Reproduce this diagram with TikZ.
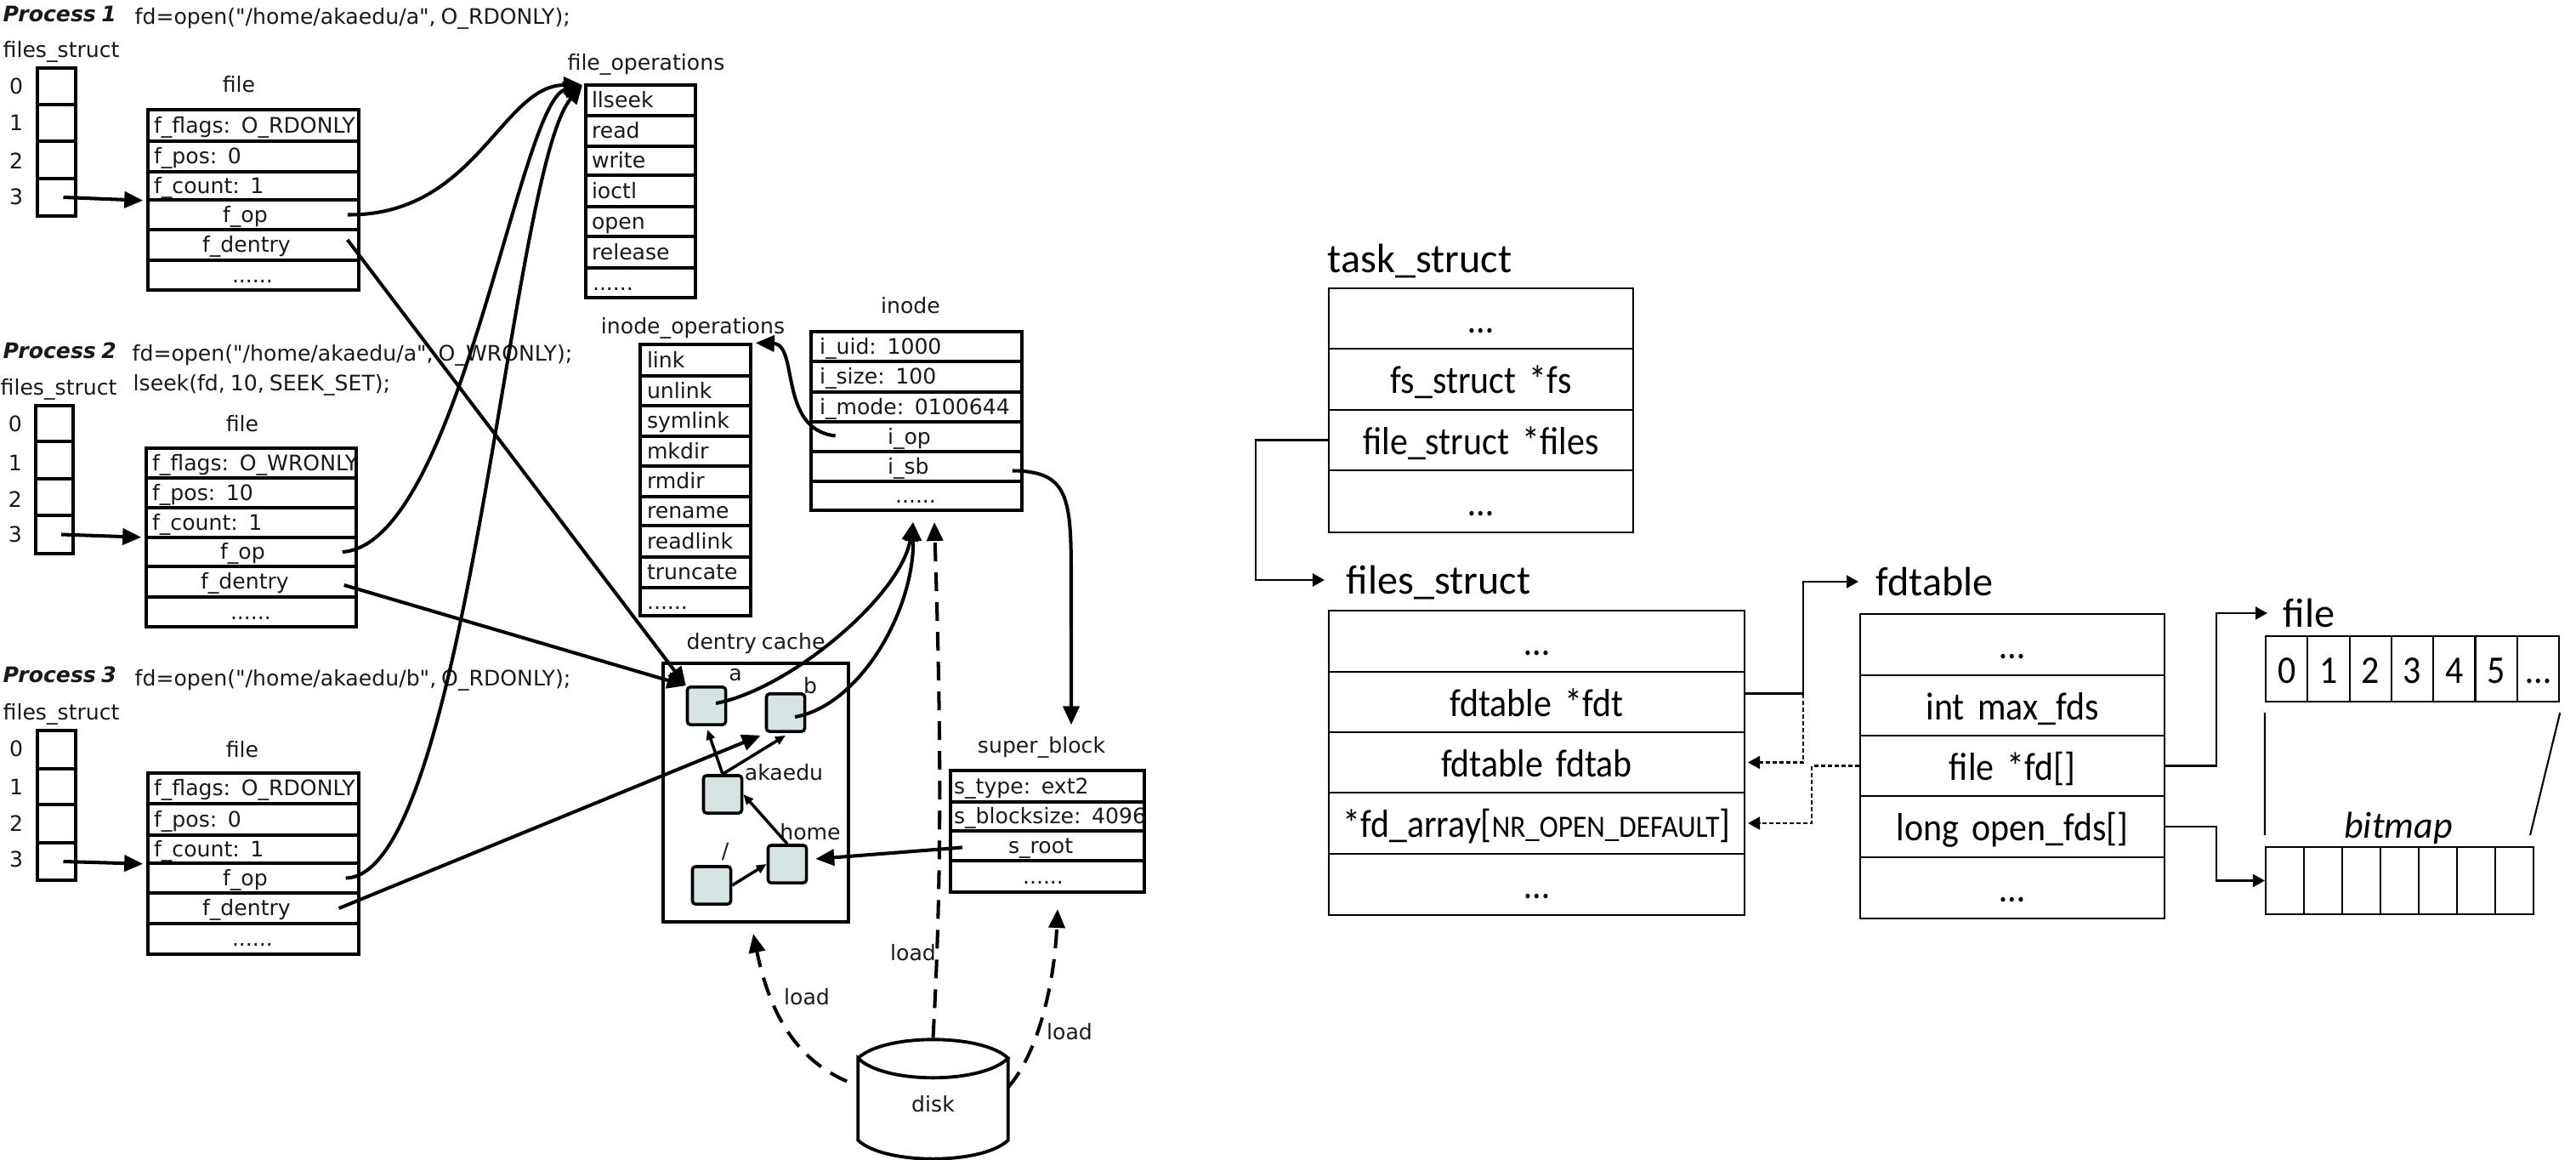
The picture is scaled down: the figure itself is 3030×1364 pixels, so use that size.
\documentclass[tikz,border=0pt]{standalone}
\usepackage{fontspec}
\usepackage{tikz}
\usetikzlibrary{arrows.meta}
\newfontfamily\dejavu[WordSpace=0.75]{DejaVu Sans}
\newfontfamily\carlito{Carlito}
\newfontfamily\carlitotall[FakeStretch=0.91,WordSpace=0.75]{Carlito}
\newlength\pxu
\setlength\pxu{0.01cm}
\newcommand{\lowstrut}{\rule[-0.2\baselineskip]{0pt}{\baselineskip}}
\tikzset{
    leftfont/.style = {font = \dejavu\fontsize{7.15}{8.5}\selectfont},
    procfont/.style = {font = \dejavu\fontsize{7.15}{8.5}\selectfont\bfseries\itshape},
    rightfont/.style = {font = \carlitotall\fontsize{13.1}{16}\selectfont},
    titlefont/.style = {font = \carlito\fontsize{13.7}{16}\selectfont},
    lefttext/.style = {leftfont, inner sep = 0pt, text = black!90, execute at begin node = \lowstrut},
    righttext/.style = {titlefont, inner sep = 0pt, execute at begin node = \lowstrut},
    leftrow/.style = {draw, line width = 1pt, inner sep = 0pt, leftfont, align = left, text = black!90},
    rightrow/.style = {draw, line width = 0.6pt, inner sep = 0pt, rightfont, align = center},
    dentrybox/.style = {draw, line width = 1pt, rounded corners = 1pt, fill = dentryfill,
        inner sep = 0pt, minimum width = 0.45cm, minimum height = 0.44cm},
    bigarrow/.style = {line width = 1.15pt, -{Triangle[length = 0.22cm, width = 0.19cm]}},
    smallarrow/.style = {line width = 1pt, -{Triangle[length = 0.12cm, width = 0.1cm]}},
    loadarrow/.style = {bigarrow, dash pattern = on 0.22cm off 0.13cm},
    thinarrow/.style = {line width = 0.6pt, -{Triangle[length = 0.14cm, width = 0.15cm]}},
    thindash/.style = {thinarrow, dash pattern = on 0.05cm off 0.03cm}
}
\definecolor{dentryfill}{HTML}{D5E3E3}
% style, prefix, left x, right x, rows: top/bottom/name/indent/text
\newcommand{\structrows}[5]{%
    \pgfmathsetlengthmacro{\rowwd}{(#4-#3)*0.01cm}%
    \foreach \ya/\yb/\nm/\indw/\txt in {#5} {
        \node [#1, text width = \rowwd, minimum height = {(\yb-\ya)*0.01cm}]
            (#2\nm) at ({(#3+#4)/2},{(\ya+\yb)/2}) {\mbox{\lowstrut\hspace{\indw\pxu}\txt}};
    }
}
\begin{document}
\begin{tikzpicture}[x = 0.01cm, y = -0.01cm]
    \useasboundingbox (0,0) rectangle (3030,1364);

    % process 1
    \node [lefttext, anchor = west, procfont] (proc1) at (3,17) {Process 1};
    \node [lefttext, anchor = west] (call1) at (158,20) {fd=open("/home/akaedu/a", O\_RDONLY);};
    \node [lefttext, anchor = west] (fs1) at (3,59) {files\_struct};
    \structrows{leftrow}{a1}{44}{89}{80/123/s0/0/{},123/166/s1/0/{},166/210/s2/0/{},210/254/s3/0/{}}
    \foreach \i/\yc in {0/102,1/145,2/190,3/232}
        \node [lefttext] (a1i\i) at (19,\yc) {\i};
    \node [lefttext] (file1) at (281,100) {file};
    \structrows{leftrow}{p1}{174}{422}{129/166/flags/7/{f\_flags: O\_RDONLY},166/202/pos/7/{f\_pos: 0},202/235/count/7/{f\_count: 1},235/270/op/88/{f\_op},270/306/dentry/64/{f\_dentry},306/341/more/99/{......}}

    % process 2
    \node [lefttext, anchor = west, procfont] (proc2) at (3,413) {Process 2};
    \node [lefttext, anchor = west] (call2) at (155,416) {fd=open("/home/akaedu/a", O\_WRONLY);};
    \node [lefttext, anchor = west] (seek2) at (156,451) {lseek(fd, 10, SEEK\_SET);};
    \node [lefttext, anchor = west] (fs2) at (0,456) {files\_struct};
    \structrows{leftrow}{a2}{42}{86}{477/519/s0/0/{},519/563/s1/0/{},563/606/s2/0/{},606/651/s3/0/{}}
    \foreach \i/\yc in {0/499,1/545,2/588,3/629}
        \node [lefttext] (a2i\i) at (18,\yc) {\i};
    \node [lefttext] (file2) at (285,499) {file};
    \structrows{leftrow}{p2}{172}{419}{527/562/flags/7/{f\_flags: O\_WRONLY},562/597/pos/7/{f\_pos: 10},597/632/count/7/{f\_count: 1},632/666/op/87/{f\_op},666/702/dentry/64/{f\_dentry},702/737/more/99/{......}}

    % process 3
    \node [lefttext, anchor = west, procfont] (proc3) at (3,794) {Process 3};
    \node [lefttext, anchor = west] (call3) at (158,798) {fd=open("/home/akaedu/b", O\_RDONLY);};
    \node [lefttext, anchor = west] (fs3) at (3,838) {files\_struct};
    \structrows{leftrow}{a3}{44}{89}{859/904/s0/0/{},904/946/s1/0/{},946/991/s2/0/{},991/1035/s3/0/{}}
    \foreach \i/\yc in {0/881,1/926,2/969,3/1011}
        \node [lefttext] (a3i\i) at (19,\yc) {\i};
    \node [lefttext] (file3) at (285,882) {file};
    \structrows{leftrow}{p3}{174}{422}{909/945/flags/7/{f\_flags: O\_RDONLY},945/982/pos/7/{f\_pos: 0},982/1015/count/7/{f\_count: 1},1015/1050/op/88/{f\_op},1050/1086/dentry/64/{f\_dentry},1086/1122/more/99/{......}}

    % operations tables
    \node [lefttext] (fopslabel) at (760,74) {file\_operations};
    \structrows{leftrow}{fo}{689}{818}{100/136/seek/7/{llseek},136/172/read/7/{read},172/206/write/7/{write},206/243/ioctl/7/{ioctl},243/278/open/7/{open},278/315/rel/7/{release},315/350/more/8/{......}}
    \node [lefttext] (iopslabel) at (815,384) {inode\_operations};
    \structrows{leftrow}{io}{753}{883}{405/442/link/8/{link},442/477/unlink/8/{unlink},477/513/sym/8/{symlink},513/548/mkdir/8/{mkdir},548/584/rmdir/8/{rmdir},584/618/ren/8/{rename},618/655/readl/8/{readlink},655/691/trunc/8/{truncate},691/724/more/8/{......}}

    % inode, super block
    \node [lefttext] (inodelabel) at (1071,360) {inode};
    \structrows{leftrow}{in}{954}{1202}{390/425/uid/10/{i\_uid: 1000},425/461/size/10/{i\_size: 100},461/496/mode/10/{i\_mode: 0100644},496/531/op/90/{i\_op},531/566/sb/90/{i\_sb},566/600/more/99/{......}}
    \node [lefttext] (sblabel) at (1225,877) {super\_block};
    \structrows{leftrow}{sb}{1118}{1346}{906/943/type/4/{s\_type: ext2},943/977/size/4/{s\_blocksize: 4096},977/1012/root/68/{s\_root},1012/1049/more/85/{......}}

    % dentry cache
    \node [lefttext] (cachelabel) at (889,755) {dentry cache};
    \node [draw, line width = 1.1pt, minimum width = 2.18cm, minimum height = 3.04cm, inner sep = 0pt] (cache) at (889,932) {};
    \node [dentrybox] (da) at (831,830) {};
    \node [dentrybox] (db) at (924,838) {};
    \node [dentrybox] (dak) at (850,934) {};
    \node [dentrybox] (dh) at (926,1016) {};
    \node [dentrybox] (dr) at (837,1041) {};
    \node [lefttext] (la) at (865,792) {a};
    \node [lefttext] (lb) at (953,807) {b};
    \node [lefttext] (lak) at (922,909) {akaedu};
    \node [lefttext] (lh) at (953,979) {home};
    \node [lefttext] (lr) at (853,1001) {/};
    \draw [smallarrow] (dr.east) -- (dh.west);
    \draw [smallarrow] (dh.north) -- (dak.east);
    \draw [smallarrow] (dak.north) -- ([xshift = 0.01cm, yshift = -0.04cm]da.south);
    \draw [smallarrow] (dak.north) -- ([yshift = -0.03cm]db.south);

    % disk
    \node [lefttext, minimum width = 1.75cm, minimum height = 0.95cm] (disk) at (1097.5,1292.5) {\raisebox{-0.07cm}{disk}};
    \draw [line width = 1.1pt] (disk.north west) .. controls (1040,1215) and (1155,1215) .. (disk.north east)
        .. controls (1155,1275) and (1040,1275) .. (disk.north west) -- (disk.south west)
        .. controls (1040,1370) and (1155,1370) .. (disk.south east) -- (disk.north east);
    \node [lefttext] (load1) at (949,1173) {load};
    \node [lefttext] (load2) at (1074,1121) {load};
    \node [lefttext] (load3) at (1258,1214) {load};

    % connectors of the left picture
    \coordinate (fopsin) at (685,100);
    \coordinate (inodein) at (1074,614);
    \coordinate (inodeload) at (1099,614);
    \coordinate (cacheload) at (886,1098);
    \coordinate (sbload) at (1244,1069);
    \draw [bigarrow] ([xshift = 0.08cm]a1s3.center) -- ([xshift = -0.04cm, yshift = 0.01cm]p1count.south west);
    \draw [bigarrow] ([xshift = 0.08cm]a2s3.center) -- ([xshift = -0.04cm, yshift = 0.02cm]p2count.south west);
    \draw [bigarrow] ([xshift = 0.08cm]a3s3.center) -- ([xshift = -0.04cm, yshift = 0.01cm]p3count.south west);
    \draw [bigarrow] ([xshift = -0.15cm]p1op.east) .. controls (560,254) and (590,100) .. (fopsin);
    \draw [bigarrow] ([xshift = -0.18cm]p2op.east) .. controls (540,640) and (610,120) .. (fopsin);
    \draw [bigarrow] ([xshift = -0.17cm]p3op.east) .. controls (550,1030) and (600,200) .. (fopsin);
    \draw [bigarrow] ([xshift = -0.15cm, yshift = 0.06cm]p1dentry.east) -- (da.north west);
    \draw [bigarrow] ([xshift = -0.16cm, yshift = -0.04cm]p2dentry.east) -- (da.north west);
    \draw [bigarrow] ([xshift = -0.25cm]p3dentry.east) -- ([xshift = -0.05cm, yshift = -0.03cm]db.south west);
    \draw [bigarrow] ([xshift = 0.11cm, yshift = 0.03cm]da.center) .. controls (930,810) and (1060,700) .. (inodein);
    \draw [bigarrow] ([xshift = 0.11cm, yshift = -0.05cm]db.center) .. controls (1010,830) and (1075,720) .. (inodein);
    \draw [bigarrow] ([xshift = -2.21cm, yshift = 0.01cm]inop.east) .. controls (915,505) and (940,405) .. ([xshift = 0.04cm]iolink.north east);
    \draw [bigarrow] ([xshift = -0.13cm, yshift = -0.05cm]insb.east) .. controls (1262,554) and (1260,590) .. (1260,700) -- ([xshift = 0.35cm, yshift = 0.09cm]sblabel.north);
    \draw [bigarrow] ([xshift = -1cm, yshift = -0.02cm]sbroot.center) -- ([xshift = 0.09cm, yshift = 0.06cm]dh.east);
    \draw [loadarrow] ([yshift = 0.24cm]disk.north) .. controls (1110,1000) and (1105,800) .. (inodeload);
    \draw [loadarrow] ([xshift = -0.13cm, yshift = 0.21cm]disk.west) .. controls (935,1245) and (905,1190) .. (cacheload);
    \draw [loadarrow] ([yshift = 0.14cm]disk.east) .. controls (1220,1240) and (1240,1160) .. (sbload);

    % task struct
    \node [righttext, anchor = west] (tasklabel) at (1561,304) {task\_struct};
    \structrows{rightrow}{ts}{1563}{1921}{339/410/top/0/{…},410/482/fs/0/{fs\_struct *fs},482/553/files/0/{file\_struct *files},553/626/end/0/{…}}
    % files struct
    \node [righttext, anchor = west] (fileslabel) at (1583,682) {files\_struct};
    \structrows{rightrow}{fs}{1563}{2052}{718/790/top/0/{…},790/861/fdt/0/{fdtable *fdt},861/932/fdtab/0/{fdtable fdtab},932/1004/array/0/{*fd\_array[{\fontsize{10.4}{16}\selectfont NR\_OPEN\_DEFAULT}]},1004/1076/end/0/{…}}
    % fdtable
    \node [righttext, anchor = west] (tablelabel) at (2206,684) {fdtable};
    \structrows{rightrow}{tb}{2188}{2546}{722/794/top/0/{…},794/865/max/0/{int max\_fds},865/936/fd/0/{file *fd[]},936/1008/open/0/{long open\_fds[]},1008/1080/end/0/{…}}
    % file array and bitmap
    \node [righttext, anchor = west] (filelabel) at (2685,721) {file};
    \foreach \i/\t in {0/0,1/1,2/2,3/3,4/4,5/5,6/…}
        \node [rightrow, minimum width = 0.493cm, minimum height = 0.77cm] (fa\i) at ({2665+(\i+0.5)*49.3},786.5) {\lowstrut\t};
    \node [righttext, font = \carlito\fontsize{12.5}{16}\selectfont\itshape] (bitlabel) at (2821,969) {bitmap};
    \foreach \i in {0,...,6}
        \node [rightrow, minimum width = 0.45cm, minimum height = 0.79cm] (bit\i) at ({2665+(\i+0.5)*45},1035.5) {};

    % connectors of the right picture
    \draw [thinarrow] (tsfiles.west) -- ++(-85,0) |- ([xshift = -0.25cm]fileslabel.west);
    \draw [thinarrow] ([yshift = 0.1cm]fsfdt.east) -- ++(68,0) coordinate (fdtjoin) |- ([xshift = -0.2cm]tablelabel.west);
    \draw [thindash] (fdtjoin) |- ([xshift = 0.03cm]fsfdtab.east);
    \draw [thindash] (tbfd.west) -- ++(-56,0) |- ([xshift = 0.03cm]fsarray.east);
    \draw [thinarrow] (tbfd.east) -- ++(60,0) |- ([xshift = -0.18cm]filelabel.west);
    \draw [thinarrow] (tbopen.east) -- ++(60,0) |- (bit0.west);
    \draw [line width = 0.6pt] ([yshift = -0.12cm]fa0.south west) -- ([yshift = 0.13cm]bit0.north west);
    \draw [line width = 0.6pt] ([yshift = -0.12cm]fa6.south east) -- ([xshift = -0.05cm, yshift = 0.13cm]bit6.north east);
\end{tikzpicture}
\end{document}
